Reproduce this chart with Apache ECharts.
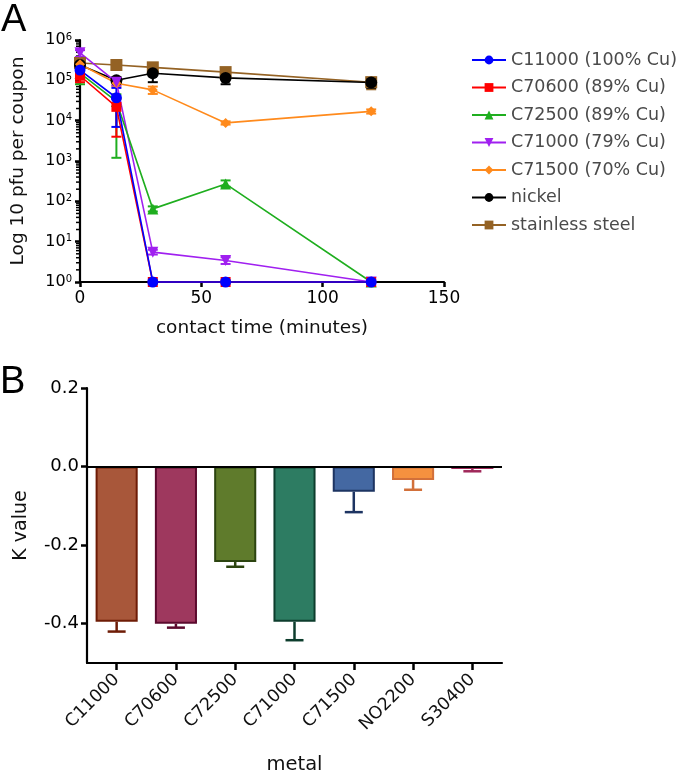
<!DOCTYPE html>
<html><head><meta charset="utf-8">
<script src="https://cdn.jsdelivr.net/npm/echarts@6/dist/echarts.min.js"></script>
<style>html,body{margin:0;padding:0;background:#fff}#c{width:680px;height:776px}</style>
</head><body><div id="c"></div>
<script>
// ---------- Panel A data ----------
const times = [0, 15, 30, 60, 120];
const seriesNames = ['C11000 (100% Cu)', 'C70600 (89% Cu)', 'C72500 (89% Cu)', 'C71000 (79% Cu)', 'C71500 (70% Cu)', 'nickel', 'stainless steel'];
const c11000 = [1.8e5, 3.7e4, 1, 1, 1];
const c11000Lo = [1.2e5, 7e3, null, null, null];
const c11000Hi = [2.6e5, 6.5e4, null, null, null];
const c70600 = [1.3e5, 2.2e4, 1, 1, 1];
const c70600Lo = [9e4, 4e3, null, null, null];
const c70600Hi = [1.8e5, 3.5e4, null, null, null];
const c72500 = [1.5e5, 3e4, 65, 270, 1];
const c72500Lo = [8e4, 1.2e3, 56, 230, null];
const c72500Hi = [2.2e5, 4.5e4, 75, 330, null];
const c71000 = [4.8e5, 9e4, 5.5, 3.4, 1];
const c71000Lo = [3.8e5, 7.5e4, 4.8, 2.8, null];
const c71000Hi = [5.6e5, 1.05e5, 6.3, 4.1, null];
const c71500 = [2.5e5, 8.5e4, 5.8e4, 8.8e3, 1.7e4];
const c71500Lo = [2e5, 7.2e4, 4.6e4, 8e3, 1.5e4];
const c71500Hi = [3e5, 1e5, 7e4, 9.6e3, 1.9e4];
const nickel = [2.4e5, 1e5, 1.5e5, 1.15e5, 8.8e4];
const nickelLo = [2e5, 8.5e4, 9e4, 8e4, 6.5e4];
const nickelHi = [2.9e5, 1.2e5, 2.6e5, 1.5e5, 1.15e5];
const steel = [2.7e5, 2.4e5, 2.1e5, 1.6e5, 9e4];
const steelLo = [2.3e5, 2e5, 1.7e5, 1.35e5, 6e4];
const steelHi = [3.1e5, 2.8e5, 2.5e5, 1.85e5, 1.1e5];
const decadeExps = [0, 1, 2, 3, 4, 5];
const minorMantissas = [2, 3, 4, 5, 6, 7, 8, 9];

// ---------- Panel B data ----------
const metals = ['C11000', 'C70600', 'C72500', 'C71000', 'C71500', 'NO2200', 'S30400'];
const kValues = [-0.395, -0.40, -0.243, -0.395, -0.064, -0.034, -0.006];
const kErrors = [0.025, 0.01, 0.012, 0.047, 0.052, 0.025, 0.006];
const kTicks = [0.2, 0.0, -0.2, -0.4];

const FONT = '"DejaVu Sans", Verdana, sans-serif';
const LFONT = '"Liberation Sans", Arial, sans-serif';

const lineDefs = [
  {name: seriesNames[6], vals: steel, lo: steelLo, hi: steelHi, color: '#946224', symbol: 'rect', size: 12},
  {name: seriesNames[5], vals: nickel, lo: nickelLo, hi: nickelHi, color: '#000000', symbol: 'circle', size: 12},
  {name: seriesNames[4], vals: c71500, lo: c71500Lo, hi: c71500Hi, color: '#ff8a1c', symbol: 'diamond', size: 10},
  {name: seriesNames[3], vals: c71000, lo: c71000Lo, hi: c71000Hi, color: '#a020f0', symbol: 'triangle', size: 11, rotate: 180},
  {name: seriesNames[2], vals: c72500, lo: c72500Lo, hi: c72500Hi, color: '#1fae1f', symbol: 'triangle', size: 11},
  {name: seriesNames[1], vals: c70600, lo: c70600Lo, hi: c70600Hi, color: '#ff0000', symbol: 'rect', size: 10},
  {name: seriesNames[0], vals: c11000, lo: c11000Lo, hi: c11000Hi, color: '#0000ff', symbol: 'circle', size: 11}
];

const barFill = ['#a8573a', '#9e385e', '#5f7b2c', '#2d7c62', '#4468a2', '#f5913f', '#c9487e'];
const barEdge = ['#6e1c06', '#5c0a2e', '#2c4410', '#0d3d2d', '#1d3462', '#d2703a', '#a0285a'];

const series = [];

// log-spaced minor ticks on the left axis of panel A
const minorVals = [];
decadeExps.forEach(e => minorMantissas.forEach(m => minorVals.push(m * Math.pow(10, e))));
series.push({
  type: 'custom', name: 'minor', xAxisIndex: 0, yAxisIndex: 0, silent: true, clip: false, z: 1,
  data: minorVals.map(v => [0, v]), encode: {x: 0, y: 1},
  renderItem: (params, api) => {
    const p = api.coord([0, api.value(1)]);
    return {type: 'line', shape: {x1: p[0] - 1, y1: p[1], x2: p[0] - 4, y2: p[1]}, style: {stroke: '#000', lineWidth: 1.5}};
  }
});

lineDefs.forEach(d => {
  const errData = [];
  times.forEach((t, i) => { if (d.lo[i] != null) errData.push([t, d.lo[i], d.hi[i]]); });
  series.push({
    type: 'custom', name: 'err ' + d.name, xAxisIndex: 0, yAxisIndex: 0,
    data: errData, encode: {x: 0, y: [1, 2]}, silent: true, clip: false, z: 2,
    renderItem: (params, api) => {
      const x = api.value(0);
      const p1 = api.coord([x, api.value(1)]);
      const p2 = api.coord([x, api.value(2)]);
      const w = 5;
      const st = {stroke: d.color, lineWidth: 2};
      return {type: 'group', children: [
        {type: 'line', shape: {x1: p1[0], y1: p1[1], x2: p2[0], y2: p2[1]}, style: st},
        {type: 'line', shape: {x1: p1[0] - w, y1: p1[1], x2: p1[0] + w, y2: p1[1]}, style: st},
        {type: 'line', shape: {x1: p2[0] - w, y1: p2[1], x2: p2[0] + w, y2: p2[1]}, style: st}
      ]};
    }
  });
  series.push({
    type: 'line', name: d.name, xAxisIndex: 0, yAxisIndex: 0,
    data: times.map((t, i) => [t, d.vals[i]]),
    symbol: d.symbol, symbolSize: d.size, symbolRotate: d.rotate || 0,
    lineStyle: {color: d.color, width: 1.6}, itemStyle: {color: d.color},
    z: 3, clip: false
  });
});

series.push({
  type: 'bar', name: 'K', xAxisIndex: 1, yAxisIndex: 1, barWidth: '71%',
  data: kValues.map((v, i) => ({value: v, itemStyle: {color: barFill[i], borderColor: barEdge[i], borderWidth: 2}})),
  z: 3,
  markLine: {silent: true, symbol: 'none', label: {show: false},
    lineStyle: {color: '#000', width: 2, type: 'solid'}, data: [{yAxis: 0}]}
});
series.push({
  type: 'custom', name: 'K err', xAxisIndex: 1, yAxisIndex: 1,
  data: kValues.map((v, i) => [i, v, v - kErrors[i]]), encode: {x: 0, y: [1, 2]},
  silent: true, z: 2,
  renderItem: (params, api) => {
    const i = api.value(0);
    const p1 = api.coord([i, api.value(1)]);
    const p2 = api.coord([i, api.value(2)]);
    const w = 9;
    const st = {stroke: barEdge[i], lineWidth: 2.5};
    return {type: 'group', children: [
      {type: 'line', shape: {x1: p1[0], y1: p1[1], x2: p2[0], y2: p2[1]}, style: st},
      {type: 'line', shape: {x1: p2[0] - w, y1: p2[1], x2: p2[0] + w, y2: p2[1]}, style: st}
    ]};
  }
});

const axisLine = {show: true, onZero: false, lineStyle: {color: '#000', width: 2.2}};
const axisTick = {show: true, length: 5, lineStyle: {color: '#000', width: 2.5}};

const option = {
  animation: false,
  backgroundColor: '#fff',
  textStyle: {fontFamily: FONT},
  graphic: [
    {type: 'text', x: 1, y: 2, style: {text: 'A', font: '38px ' + LFONT, fill: '#000'}},
    {type: 'text', x: 0, y: 364, style: {text: 'B', font: '38px ' + LFONT, fill: '#000'}}
  ],
  legend: {
    data: seriesNames, orient: 'vertical', left: 466, top: 46,
    itemWidth: 34, itemHeight: 11, itemGap: 9.5,
    textStyle: {fontSize: 17.5, color: '#4a4a4a', fontFamily: FONT}
  },
  grid: [
    {left: 80, top: 40, width: 364, height: 242, containLabel: false, outerBoundsMode: 'none'},
    {left: 87, top: 388, width: 415, height: 275, containLabel: false, outerBoundsMode: 'none'}
  ],
  xAxis: [
    {type: 'value', gridIndex: 0, min: 0, max: 150, interval: 50,
     name: 'contact time (minutes)', nameLocation: 'middle', nameGap: 37,
     nameTextStyle: {fontSize: 18.5, color: '#111', fontFamily: FONT},
     axisLine, axisTick, splitLine: {show: false},
     axisLabel: {fontSize: 17, color: '#000', margin: 8, fontFamily: FONT}},
    {type: 'category', gridIndex: 1, data: metals,
     name: 'metal', nameLocation: 'middle', nameGap: 92,
     nameTextStyle: {fontSize: 19.5, color: '#111', fontFamily: FONT},
     axisLine, axisTick: {show: true, alignWithLabel: true, length: 7, lineStyle: {color: '#000', width: 2.5}},
     axisLabel: {fontSize: 17.5, color: '#111', rotate: 45, margin: 14, interval: 0, fontFamily: FONT}}
  ],
  yAxis: [
    {type: 'log', gridIndex: 0, logBase: 10, min: 1, max: 1e6,
     name: 'Log 10 pfu per coupon', nameLocation: 'middle', nameGap: 52,
     nameTextStyle: {fontSize: 18.5, color: '#111', fontFamily: FONT},
     axisLine, axisTick, splitLine: {show: false},
     axisLabel: {margin: 8,
       formatter: v => '{b|10}{s|' + Math.round(Math.log10(v)) + '}',
       rich: {b: {fontSize: 16, color: '#000', fontFamily: FONT}, s: {fontSize: 10, color: '#000', verticalAlign: 'top', fontFamily: FONT}}}},
    {type: 'value', gridIndex: 1, min: -0.5, max: 0.2,
     name: 'K value', nameLocation: 'middle', nameGap: 56,
     nameTextStyle: {fontSize: 19, color: '#111', fontFamily: FONT},
     axisLine, axisTick: {show: true, length: 6, customValues: kTicks, lineStyle: {color: '#000', width: 2.5}},
     splitLine: {show: false},
     axisLabel: {fontSize: 18, color: '#000', margin: 8, customValues: kTicks, formatter: v => v.toFixed(1), fontFamily: FONT}}
  ],
  series
};

const chart = echarts.init(document.getElementById('c'), null, {renderer: 'canvas'});
chart.setOption(option);
</script>
</body></html>
